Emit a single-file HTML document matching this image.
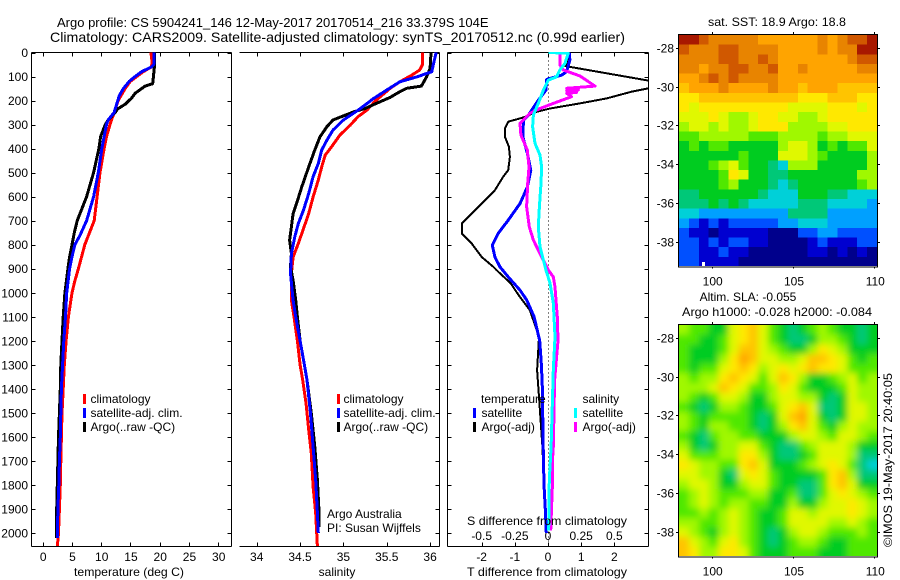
<!DOCTYPE html>
<html lang="en">
<head>
<meta charset="utf-8">
<title>Argo profile chart</title>
<style>
html,body{margin:0;padding:0;background:#fff;width:900px;height:580px;overflow:hidden}
svg{display:block;position:absolute;left:0;top:0}
text{font-family:"Liberation Sans",sans-serif;font-size:12px;fill:#000}
text.ttl{font-size:14px}
text.ttl1{font-size:13px}
.frame{fill:none;stroke:#000;stroke-width:1;shape-rendering:crispEdges}
.tick{stroke:#000;stroke-width:1;shape-rendering:crispEdges}
.prof{fill:none;stroke-width:3;stroke-linejoin:round;shape-rendering:crispEdges}
.thin{stroke-width:2}
</style>
</head>
<body>
<svg id="chart" width="900" height="580" viewBox="0 0 900 580" xmlns="http://www.w3.org/2000/svg">
<defs>
<clipPath id="clipP1"><rect x="32" y="52" width="199" height="494"/></clipPath>
<clipPath id="clipP2"><rect x="239" y="52" width="200" height="494"/></clipPath>
<clipPath id="clipP3"><rect x="447" y="52" width="201" height="494"/></clipPath>
<clipPath id="clipM1"><rect x="679" y="35" width="198" height="231"/></clipPath>
<clipPath id="clipM2"><rect x="679" y="325" width="198" height="231"/></clipPath>
<filter id="soft" x="-10%" y="-10%" width="120%" height="120%"><feGaussianBlur stdDeviation="3.5"/></filter>
</defs>

<text class="ttl1" x="57" y="27">Argo profile: CS 5904241_146 12-May-2017 20170514_216 33.379S 104E</text>
<text class="ttl" x="50" y="42" textLength="575" lengthAdjust="spacingAndGlyphs">Climatology: CARS2009. Satellite-adjusted climatology: synTS_20170512.nc (0.99d earlier)</text>

<g id="p1"></g>
<g id="p2"></g>
<g id="p3"></g>
<g id="m1"></g>
<g id="m2"></g>

<text x="129" y="576" text-anchor="middle" textLength="110" lengthAdjust="spacingAndGlyphs">temperature (deg C)</text>
<text x="337" y="576" text-anchor="middle">salinity</text>
<text x="547" y="576" text-anchor="middle" textLength="160" lengthAdjust="spacingAndGlyphs">T difference from climatology</text>
<text x="547" y="525" text-anchor="middle" textLength="160" lengthAdjust="spacingAndGlyphs">S difference from climatology</text>

<g>
<rect x="83" y="394" width="3" height="10" fill="#f00"/>
<text x="90.5" y="403">climatology</text>
<rect x="83" y="408" width="3" height="10" fill="#00f"/>
<text x="90.5" y="417">satellite-adj. clim.</text>
<rect x="83" y="422" width="3" height="10" fill="#000"/>
<text x="90.5" y="431">Argo(..raw -QC)</text>
</g>
<g>
<rect x="337" y="394" width="3" height="10" fill="#f00"/>
<text x="343.5" y="403">climatology</text>
<rect x="337" y="408" width="3" height="10" fill="#00f"/>
<text x="343.5" y="417">satellite-adj. clim.</text>
<rect x="337" y="422" width="3" height="10" fill="#000"/>
<text x="343.5" y="431">Argo(..raw -QC)</text>
</g>
<g>
<text x="481" y="403">temperature</text>
<rect x="473" y="408" width="3" height="10" fill="#00f"/>
<text x="481.5" y="417">satellite</text>
<rect x="473" y="422" width="3" height="10" fill="#000"/>
<text x="481.5" y="431">Argo(-adj)</text>
<text x="582.5" y="403">salinity</text>
<rect x="574" y="408" width="3" height="10" fill="#0ff"/>
<text x="582.5" y="417">satellite</text>
<rect x="574" y="422" width="3" height="10" fill="#f0f"/>
<text x="582.5" y="431">Argo(-adj)</text>
</g>

<text x="327" y="518">Argo Australia</text>
<text x="327" y="532">PI: Susan Wijffels</text>

<text x="777" y="26" text-anchor="middle" textLength="138" lengthAdjust="spacingAndGlyphs">sat. SST: 18.9 Argo: 18.8</text>
<text x="748" y="301" text-anchor="middle">Altim. SLA: -0.055</text>
<text x="777" y="316" text-anchor="middle" textLength="190" lengthAdjust="spacingAndGlyphs">Argo h1000: -0.028 h2000: -0.084</text>
<text transform="translate(892,547) rotate(-90)" textLength="174" lengthAdjust="spacingAndGlyphs">©IMOS 19-May-2017 20:40:05</text>
</svg>

<script>
// ---- depth axis ----
const depthTicks = [0,100,200,300,400,500,600,700,800,900,1000,1100,1200,1300,1400,1500,1600,1700,1800,1900,2000];
const depthMax = 2056;

// ---- temperature panel ----
const tempTicks = [0,5,10,15,20,25,30];
const tempClimDepth = [0,40,60,80,100,120,150,200,250,300,350,400,500,600,700,800,900,950,1000,1100,1200,1300,1400,1500,1600,1700,1800,1900,2000,2056];
const tempClim = [18.5,18.7,18.6,17.2,16.1,15.0,14.1,12.9,12.2,11.5,10.9,10.5,9.8,9.3,8.8,7.2,6.1,5.5,5.0,4.4,4.0,3.7,3.5,3.3,3.2,3.1,3.0,2.85,2.7,2.5];
const tempSatDepth = [0,50,60,80,100,120,150,180,250,280,300,400,500,600,700,760,800,850,900,1000,1100,1200,1300,1400,1500,1600,1700,1800,1900,2020];
const tempSat = [19.0,19.0,18.6,16.9,15.8,14.8,13.8,13.1,12.2,11.2,10.9,10.1,9.5,8.7,7.5,6.4,5.5,5.0,4.6,4.1,3.9,3.6,3.4,3.2,3.1,3.0,2.85,2.75,2.6,2.5];
const tempArgoDepth = [0,60,130,140,170,190,215,235,250,280,300,350,400,500,550,600,650,700,750,800,850,900,1000,1100,1200,1300,1400,1500,1600,1700,1800,1900,2020];
const tempArgo = [19.1,19.1,18.8,17.5,15.8,15.2,14.1,12.8,12.4,11.2,10.7,9.9,9.6,8.7,8.1,7.5,6.7,5.9,5.4,5.0,4.6,4.3,3.8,3.5,3.3,3.1,3.0,2.85,2.7,2.6,2.5,2.4,2.4];

// ---- salinity panel ----
const salTicks = [34,34.5,35,35.5,36];
const salClimDepth = [0,52,73,94,122,149,198,240,267,302,344,399,427,476,531,601,670,733,795,851,920,1031,1100,1200,1300,1363,1463,1571,1669,1807,1918,2056];
const salClim = [35.91,35.91,35.88,35.79,35.65,35.54,35.38,35.27,35.17,35.08,34.96,34.85,34.79,34.75,34.71,34.65,34.60,34.54,34.48,34.42,34.40,34.40,34.43,34.47,34.50,34.53,34.57,34.60,34.63,34.65,34.68,34.70];
const salSatDepth = [0,45,80,101,122,156,191,240,281,323,365,406,462,517,587,656,712,767,837,920,1031,1100,1200,1300,1363,1502,1641,1780,1918,2000];
const salSat = [36.07,36.04,36.02,35.85,35.65,35.50,35.35,35.17,35.00,34.88,34.81,34.75,34.71,34.65,34.60,34.54,34.48,34.44,34.40,34.39,34.42,34.45,34.50,34.55,34.58,34.62,34.65,34.68,34.70,34.71];
const salArgoDepth = [0,66,101,140,149,163,187,212,233,247,264,281,309,351,406,476,559,628,670,726,781,837,892,948,1031,1100,1200,1300,1363,1502,1641,1780,1918,1975];
const salArgo = [36.01,36.00,35.96,35.90,35.73,35.65,35.54,35.38,35.25,35.12,35.00,34.88,34.81,34.73,34.67,34.60,34.52,34.46,34.42,34.40,34.38,34.40,34.39,34.42,34.45,34.47,34.50,34.55,34.58,34.63,34.67,34.70,34.72,34.72];

// ---- difference panel ----
const diffTTicks = [-2,-1,0,1,2];
const diffSTickLabels = ["-0.5","-0.25","0","0.25","0.5"];
const diffSTicks = [-0.5,-0.25,0,0.25,0.5];
const dTArgoDepth = [0,45,56,117,132,149,163,191,212,233,247,270,288,316,351,392,434,490,517,573,628,670,712,753,795,851,892,906,960,1017,1072,1183,1322,1433,1641,1800];
const dTArgo = [0.61,0.61,0.51,3.03,3.28,3.03,2.52,1.77,0.96,0.06,-0.34,-0.74,-1.20,-1.30,-1.30,-1.18,-1.15,-1.20,-1.35,-1.60,-2.00,-2.30,-2.60,-2.60,-2.30,-2.00,-1.65,-1.55,-1.13,-0.85,-0.55,-0.27,-0.33,-0.27,-0.17,-0.12];
const dTSatDepth = [0,31,80,94,112,156,198,260,281,351,420,490,559,628,698,753,802,851,892,934,990,1031,1100,1200,1300,1400,1600,1800,1900,2000];
const dTSat = [0.64,0.66,0.56,0.41,-0.04,-0.06,-0.29,-0.59,-0.74,-0.76,-0.62,-0.52,-0.62,-0.84,-1.20,-1.50,-1.68,-1.60,-1.45,-1.20,-0.84,-0.64,-0.42,-0.25,-0.20,-0.17,-0.15,-0.12,-0.08,-0.05];
const dSArgoDepth = [0,52,73,98,140,149,156,160,166,170,184,212,233,253,295,344,406,476,545,642,726,781,837,906,934,976,1031,1100,1200,1363,1641,1700,1800,1990];
const dSArgo = [0.09,0.09,0.116,0.241,0.354,0.141,0.228,0.141,0.216,0.141,0.178,0.04,-0.06,-0.136,-0.211,-0.204,-0.156,-0.143,-0.153,-0.161,-0.141,-0.11,-0.06,0.003,0.04,0.053,0.06,0.07,0.075,0.05,0.04,0.033,0.033,0.02];
const dSSatDepth = [0,3,45,73,101,115,156,212,260,309,378,427,476,545,642,726,809,906,960,1043,1183,1322,1641,1780,1990];
const dSSat = [0.003,0.153,0.128,0.09,0.065,0.003,-0.035,-0.073,-0.11,-0.116,-0.098,-0.06,-0.048,-0.053,-0.065,-0.073,-0.06,-0.015,0.015,0.04,0.053,0.04,0.023,0.01,0.005];

// ---- maps ----
const lonTicks = [100,105,110];
const latTicks = [-28,-30,-32,-34,-36,-38];
const mapPalette = ["#00008c","#0000d0","#0050ff","#00a0ff","#00d0d8","#00c878","#00cc20","#50e800","#a0f800","#e0f800","#ffe800","#ffc400","#ffa400","#e88400","#d05800","#a81800"];
const sstGrid = [
[15,15,14,13,13,13,13,13,12,12,12,12,12,12,13,12,13,14,14,15],
[14,13,13,13,14,14,13,13,13,13,12,12,12,12,13,12,13,13,15,15],
[13,13,13,13,14,14,13,13,14,13,12,12,12,12,12,12,12,13,14,14],
[13,13,12,13,13,14,14,13,13,14,12,12,13,12,12,12,12,12,13,13],
[12,12,13,14,13,14,13,13,13,13,12,12,12,12,12,12,12,12,12,12],
[11,12,12,12,13,12,12,12,12,13,12,12,11,12,12,12,11,11,11,11],
[10,10,11,11,11,11,11,11,11,11,11,11,10,10,10,11,11,11,10,10],
[10,9,10,10,10,10,10,10,10,10,10,9,9,9,9,10,10,10,9,10],
[9,9,9,10,9,8,8,9,10,10,9,9,8,8,9,10,10,10,10,10],
[8,9,9,8,9,8,8,9,10,10,10,8,8,8,8,9,9,10,10,10],
[7,7,8,8,8,8,8,7,7,7,8,8,8,8,7,8,8,9,9,9],
[6,7,6,7,7,6,6,6,6,6,8,9,9,8,6,7,6,7,7,9],
[6,6,6,6,6,6,7,6,6,6,9,9,9,8,7,6,6,6,6,8],
[6,6,6,7,8,9,7,6,6,5,4,8,8,8,6,6,6,6,6,8],
[6,6,6,6,7,10,9,6,6,5,5,6,6,6,6,6,6,6,8,8],
[6,6,6,6,7,8,6,6,6,5,4,5,6,6,6,6,6,6,7,8],
[5,5,6,6,6,6,6,6,5,4,4,4,6,6,6,5,5,4,4,4],
[5,5,5,6,5,6,5,4,4,4,4,4,5,5,5,4,4,4,4,3],
[4,4,3,3,3,3,3,3,3,3,3,5,5,5,5,3,3,3,3,3],
[3,2,1,2,1,2,2,2,2,2,3,3,4,4,4,3,3,3,3,3],
[2,1,1,0,1,1,1,1,1,0,0,0,2,2,3,3,2,2,2,2],
[2,2,1,2,1,2,2,1,1,0,0,0,0,1,2,1,1,1,2,2],
[2,2,1,1,2,1,1,0,0,0,0,0,0,1,1,0,1,0,1,0],
[2,2,1,1,1,1,0,0,0,0,0,0,0,0,0,0,0,0,0,0]
];
const slaGrid = [
[8,7,7,6,6,9,10,11,9,7,6,5,6,7,8,7,6,6,5,6],
[7,7,6,6,7,9,10,11,9,7,6,5,5,6,8,8,7,6,5,6],
[7,6,6,6,7,9,11,11,9,8,7,6,6,8,10,9,8,6,6,6],
[7,6,6,6,8,10,12,11,9,9,8,8,9,11,11,10,9,7,6,7],
[7,6,7,7,9,10,11,10,8,9,10,9,10,11,10,10,9,7,7,7],
[8,7,8,8,10,11,10,9,7,9,11,10,8,6,6,7,8,9,7,8],
[8,8,8,9,11,10,9,7,7,8,10,9,7,6,6,6,7,9,8,8],
[8,7,6,7,9,9,8,6,6,8,9,9,8,8,6,5,6,9,8,8],
[7,6,5,6,8,8,7,6,6,7,9,10,11,9,5,5,6,9,9,8],
[8,7,6,7,7,7,7,6,5,6,9,11,12,9,6,5,6,9,9,8],
[8,7,6,8,8,7,7,6,5,6,8,10,11,9,7,6,8,9,8,8],
[7,6,5,7,8,8,7,7,6,6,6,8,9,9,8,7,9,9,8,7],
[8,6,5,6,8,8,9,9,7,6,5,5,7,8,9,9,9,8,6,6],
[9,7,7,7,8,8,10,10,8,6,5,5,6,7,9,9,9,8,5,5],
[10,9,8,8,7,7,10,11,9,6,6,6,7,8,9,10,9,7,5,4],
[9,9,8,8,6,5,9,10,9,7,6,6,6,6,7,10,11,8,5,5],
[8,9,9,8,6,6,8,9,9,7,6,6,5,5,7,10,11,9,6,6],
[7,8,9,8,7,7,7,8,8,6,6,7,5,5,7,9,10,9,8,7],
[7,8,9,8,7,8,8,7,7,6,6,8,6,6,8,9,9,10,9,8],
[7,7,8,7,8,9,8,7,6,6,7,9,9,8,9,9,9,10,9,8],
[8,8,7,7,8,9,8,7,6,6,7,9,9,9,9,8,8,9,8,7],
[9,8,7,6,8,9,8,7,6,5,6,8,9,9,8,7,7,7,8,7],
[11,9,8,7,9,10,8,7,6,5,6,7,8,8,7,6,6,7,7,7],
[11,10,8,8,10,10,9,7,6,6,6,7,7,7,6,6,6,7,7,7]
];

const NS = "http://www.w3.org/2000/svg";
function mk(parent, tag, attrs) {
  const el = document.createElementNS(NS, tag);
  for (const k in attrs) el.setAttribute(k, attrs[k]);
  parent.appendChild(el);
  return el;
}
function label(parent, x, y, str, anchor, name) {
  const el = mk(parent, "text", {x: x, y: y, "text-anchor": anchor});
  el.textContent = str;
  
  
  return el;
}
function tick(parent, x1, y1, x2, y2, name) {
  const el = mk(parent, "line", {x1: x1, y1: y1, x2: x2, y2: y2, class: "tick"});
  
  
}
function frameSeg(parent, x1, y1, x2, y2, name) {
  const el = mk(parent, "line", {x1: x1, y1: y1, x2: x2, y2: y2, class: "tick"});
  
  
}
const TOP = 52.5, BOTTOM = 546.5;
const yDepth = d => TOP + d * (533 - 52.5) / 2000;

function profile(group, clipId, xf, depths, vals, color, cls, name) {
  const pts = depths.map((d, i) => xf(vals[i]).toFixed(1) + "," + yDepth(d).toFixed(1)).join(" ");
  const el = mk(group, "polyline", {points: pts, stroke: color, class: cls, "clip-path": "url(#" + clipId + ")"});
  
  
}
function panelFrame(g, left, right, hasLeft) {
  frameSeg(g, left, TOP, right, TOP, "top-axis-line");
  frameSeg(g, left, BOTTOM, right, BOTTOM, "bottom-axis-line");
  frameSeg(g, right, TOP, right, BOTTOM, "right-axis-line");
  if (hasLeft) frameSeg(g, left, TOP, left, BOTTOM, "left-axis-line");
  depthTicks.forEach(d => {
    const y = Math.round(yDepth(d)) + 0.5;
    if (hasLeft) tick(g, left, y, left + 4, y, "depth-tick-left");
    tick(g, right - 4, y, right, y, "depth-tick-right");
  });
}

// temperature panel
const xTemp = t => 42.7 + t * 5.85;
const p1 = document.getElementById("p1");
panelFrame(p1, 31.5, 231.5, true);
depthTicks.forEach(d => {
  label(p1, 28, yDepth(d) + 4.5, String(d), "end", "depth-tick-label");
});
tempTicks.forEach(t => {
  const x = Math.round(xTemp(t)) + 0.5;
  tick(p1, x, TOP, x, TOP + 4, "temperature-tick-top");
  tick(p1, x, BOTTOM - 4, x, BOTTOM, "temperature-tick-bottom");
  label(p1, xTemp(t) + 0.5, 561, String(t), "middle", "temperature-tick-label");
});
profile(p1, "clipP1", xTemp, tempClimDepth, tempClim, "#f00", "prof", "temperature-climatology-line");
profile(p1, "clipP1", xTemp, tempArgoDepth, tempArgo, "#000", "prof", "temperature-argo-line");
profile(p1, "clipP1", xTemp, tempSatDepth, tempSat, "#00f", "prof", "temperature-satellite-line");

// salinity panel
const xSal = s => 256.7 + (s - 34) * 86.7;
const p2 = document.getElementById("p2");
panelFrame(p2, 239.5, 439.5, false);
salTicks.forEach(s => {
  const x = Math.round(xSal(s)) + 0.5;
  tick(p2, x, TOP, x, TOP + 4, "salinity-tick-top");
  tick(p2, x, BOTTOM - 4, x, BOTTOM, "salinity-tick-bottom");
  label(p2, xSal(s), 561, String(s), "middle", "salinity-tick-label");
});
profile(p2, "clipP2", xSal, salClimDepth, salClim, "#f00", "prof", "salinity-climatology-line");
profile(p2, "clipP2", xSal, salArgoDepth, salArgo, "#000", "prof", "salinity-argo-line");
profile(p2, "clipP2", xSal, salSatDepth, salSat, "#00f", "prof", "salinity-satellite-line");

// difference panel
const xDT = t => 548 + t * 33.17;
const xDS = s => 548 + s * 4 * 33.17;
const p3 = document.getElementById("p3");
panelFrame(p3, 447.5, 648.5, true);
diffTTicks.forEach(t => {
  const x = Math.round(xDT(t)) + 0.5;
  tick(p3, x, TOP, x, TOP + 4, "t-difference-tick-top");
  tick(p3, x, BOTTOM - 4, x, BOTTOM, "t-difference-tick-bottom");
  label(p3, xDT(t), 561, String(t), "middle", "t-difference-tick-label");
});
diffSTicks.forEach((s, i) => {
  label(p3, xDS(s), 540, diffSTickLabels[i], "middle", "s-difference-tick-label");
});
const zero = mk(p3, "line", {x1: 548.5, y1: TOP, x2: 548.5, y2: BOTTOM, stroke: "#000", "stroke-dasharray": "1 3", "shape-rendering": "crispEdges"});


profile(p3, "clipP3", xDT, dTArgoDepth, dTArgo, "#000", "prof thin", "t-difference-argo-line");
profile(p3, "clipP3", xDT, dTSatDepth, dTSat, "#00f", "prof", "t-difference-satellite-line");
profile(p3, "clipP3", xDS, dSArgoDepth, dSArgo, "#f0f", "prof", "s-difference-argo-line");
profile(p3, "clipP3", xDS, dSSatDepth, dSSat, "#0ff", "prof", "s-difference-satellite-line");

// maps
const xLon = lon => 712.7 + (lon - 100) * 16.26;
function drawMap(id, grid, top, clipId, soft, name) {
  const g = document.getElementById(id);
  const left = 679, w = 198, h = 231.5;
  const holder = mk(g, "g", {"clip-path": "url(#" + clipId + ")"});
  
  
  const inner = mk(holder, "g", soft ? {filter: "url(#soft)"} : {});
  const rows = grid.length, cols = grid[0].length;
  const cw = w / cols, ch = h / rows;
  grid.forEach((row, r) => row.forEach((v, c) => {
    const pad = soft ? 14 : 0;
    const x0 = left + c * cw - (c === 0 ? pad : 0);
    const x1 = left + (c + 1) * cw + (c === cols - 1 ? pad : 0) + 0.5;
    const y0 = top + r * ch - (r === 0 ? pad : 0);
    const y1 = top + (r + 1) * ch + (r === rows - 1 ? pad : 0) + 0.5;
    const cell = mk(inner, "rect", {x: x0.toFixed(1), y: y0.toFixed(1), width: (x1 - x0).toFixed(1), height: (y1 - y0).toFixed(1), fill: mapPalette[v], "shape-rendering": "crispEdges"});
    
    
  }));
  const rectF = mk(g, "rect", {x: left - 0.5, y: top - 0.5, width: w + 1, height: h + 1, class: "frame"});
  
  
  lonTicks.forEach(lon => {
    const x = Math.round(xLon(lon)) - 0.5;
    tick(g, x, top - 3, x, top, "longitude-tick-top");
    tick(g, x, top + h, x, top + h + 2, "longitude-tick-bottom");
    label(g, xLon(lon), top + h + 19, String(lon), "middle", "longitude-tick-label");
  });
  latTicks.forEach(lat => {
    const y = Math.round(top + 12.7 + (-28 - lat) * 19.4) + 0.5;
    tick(g, left - 3, y, left, y, "latitude-tick-left");
    tick(g, left + w, y, left + w + 3, y, "latitude-tick-right");
    label(g, left - 5, y + 4, String(lat), "end", "latitude-tick-label");
  });
}
drawMap("m1", sstGrid, 35, "clipM1", false, "sst-map");
drawMap("m2", slaGrid, 325, "clipM2", true, "sla-map");
const gap = mk(document.getElementById("m1"), "rect", {x: 702, y: 262, width: 3, height: 4, fill: "#fff"});


</script>
</body>
</html>
